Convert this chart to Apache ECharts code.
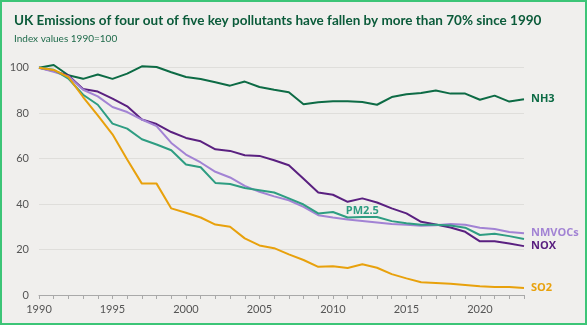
<!DOCTYPE html>
<html>
<head>
<meta charset="utf-8">
<script src="https://cdn.jsdelivr.net/npm/echarts@6/dist/echarts.min.js"></script>
<style>
  html, body { margin: 0; padding: 0; background: #f0efed; }
  #frame { position: absolute; left: 0; top: 0; width: 587px; height: 325px; box-sizing: border-box; border: 2px solid #3cc577; }
  #chart { position: absolute; left: 0; top: 0; width: 587px; height: 325px; }
</style>
</head>
<body>
<div id="chart"></div>
<div id="frame"></div>
<script>
// Emissions index, 1990 = 100
const years = [];
for (let y = 1990; y <= 2023; y++) years.push(String(y));

const nh3 = [100, 101.2, 96.7, 95.1, 97.0, 95.1, 97.4, 100.6, 100.3, 98.0, 95.9, 95.0, 93.6, 92.1, 93.9, 91.5, 90.3, 89.2, 83.9, 84.8, 85.2, 85.2, 84.9, 83.7, 87.1, 88.3, 88.9, 90.0, 88.6, 88.6, 85.9, 87.7, 85.1, 86.1];
const nox = [100, 98.5, 96.6, 90.6, 89.5, 86.4, 83.0, 77.2, 75.2, 71.7, 69.1, 67.6, 64.1, 63.4, 61.5, 61.2, 59.3, 57.1, 51.1, 45.1, 44.1, 41.0, 42.5, 40.7, 38.1, 35.9, 32.2, 31.0, 29.7, 27.8, 23.6, 23.6, 22.7, 21.5];
const nmvocs = [100, 98.2, 96.2, 90.3, 87.4, 82.7, 80.5, 77.2, 74.3, 66.9, 61.8, 58.3, 54.2, 51.7, 48.0, 45.4, 43.4, 41.7, 38.8, 35.1, 34.1, 33.2, 32.6, 31.9, 31.2, 30.9, 30.5, 30.7, 31.2, 30.9, 29.6, 29.0, 27.7, 27.2];
const pm25 = [100, 99.1, 95.2, 88.1, 83.7, 75.4, 73.2, 68.5, 66.2, 63.7, 57.4, 56.2, 49.3, 48.8, 47.1, 46.1, 45.1, 42.5, 39.8, 35.9, 36.5, 34.1, 34.3, 34.3, 32.5, 31.6, 30.9, 30.9, 30.6, 29.6, 26.4, 26.9, 25.9, 24.6];
const so2 = [100, 99.0, 95.9, 87.1, 79.0, 70.7, 59.6, 49.0, 49.0, 38.1, 36.2, 34.1, 31.0, 30.0, 24.9, 21.8, 20.6, 17.9, 15.4, 12.4, 12.7, 11.9, 13.5, 12.0, 9.2, 7.3, 5.6, 5.3, 5.0, 4.4, 3.8, 3.5, 3.5, 3.1];

const yTicks = [0, 20, 40, 60, 80, 100];

const FONT = 'Lato, "Open Sans", sans-serif';
const LABEL_FONT = '"Open Sans", Lato, sans-serif';
const C = {
  nh3: '#0d6b45',
  nox: '#5a2080',
  nmvocs: '#a283d4',
  pm25: '#2e9d82',
  so2: '#e8a10c'
};

function lineSeries(name, data, color, withEnd) {
  return {
    name: name,
    type: 'line',
    data: data,
    symbol: 'none',
    smooth: false,
    clip: false,
    lineStyle: { color: color, width: 2 },
    itemStyle: { color: color },
    endLabel: withEnd ? {
      show: true,
      formatter: name,
      color: color,
      fontFamily: LABEL_FONT,
      fontWeight: 'bold',
      fontSize: 11,
      distance: 7
    } : { show: false },
    emphasis: { disabled: true },
    z: 3
  };
}

const chart = echarts.init(document.getElementById('chart'), null, { renderer: 'canvas' });

const pmSeries = lineSeries('PM2.5', pm25, C.pm25, false);
pmSeries.markPoint = {
  symbol: 'circle',
  symbolSize: 0,
  silent: true,
  data: [{ coord: ['2012', 36.8] }],
  label: {
    show: true,
    position: 'inside',
    formatter: 'PM2.5',
    color: C.pm25,
    fontFamily: LABEL_FONT,
    fontWeight: 'bold',
    fontSize: 11
  }
};

chart.setOption({
  backgroundColor: '#f0efed',
  animation: false,
  title: {
    text: 'UK Emissions of four out of five key pollutants have fallen by more than 70% since 1990',
    subtext: 'Index values 1990=100',
    left: 9,
    top: 9,
    itemGap: 6,
    textStyle: { fontFamily: FONT, fontWeight: 'bold', fontSize: 13.5, color: '#0b5b3a' },
    subtextStyle: { fontFamily: FONT, fontSize: 10, color: '#1f6b4b' }
  },
  grid: { left: 39, right: 63, top: 67.7, bottom: 30, containLabel: false },
  xAxis: {
    type: 'category',
    data: years,
    boundaryGap: false,
    axisLine: { show: true, lineStyle: { color: '#a9a9a9', width: 1 } },
    axisTick: { show: true, interval: 0, length: 4, lineStyle: { color: '#a9a9a9' } },
    axisLabel: {
      interval: 4,
      margin: 9,
      color: '#555',
      fontFamily: FONT,
      fontSize: 11
    },
    splitLine: { show: false }
  },
  yAxis: {
    type: 'value',
    min: yTicks[0],
    max: yTicks[yTicks.length - 1],
    interval: 20,
    axisLine: { show: false },
    axisTick: { show: false },
    axisLabel: { color: '#555', fontFamily: FONT, fontSize: 11, margin: 10 },
    splitLine: { show: true, lineStyle: { color: '#dfdedb', width: 1 } }
  },
  series: [
    lineSeries('NH3', nh3, C.nh3, true),
    lineSeries('NOX', nox, C.nox, true),
    lineSeries('NMVOCs', nmvocs, C.nmvocs, true),
    pmSeries,
    lineSeries('SO2', so2, C.so2, true)
  ]
});
</script>
</body>
</html>
